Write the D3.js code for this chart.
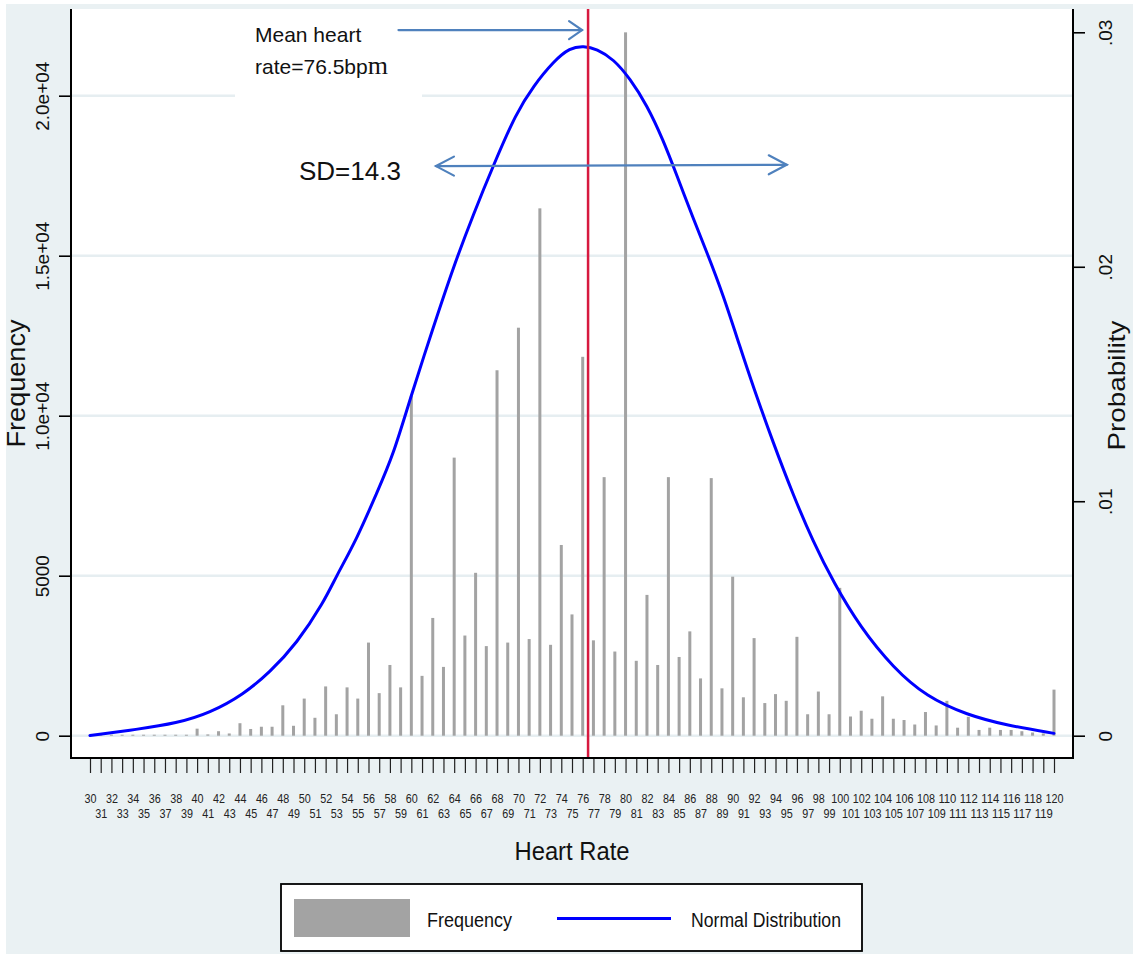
<!DOCTYPE html>
<html>
<head>
<meta charset="utf-8">
<script src="https://cdn.jsdelivr.net/npm/d3@7"></script>
<style>
  body { margin: 0; background: #ffffff; }
  svg { display: block; }
  text { font-family: "Liberation Sans", Arial, sans-serif; fill: #111; }
</style>
</head>
<body>
<svg id="chart" width="1133" height="954"></svg>
<script>
// Heart-rate categories (bpm) and observed counts
const heartRates = [30,31,32,33,34,35,36,37,38,39,40,41,42,43,44,45,46,47,48,49,
  50,51,52,53,54,55,56,57,58,59,60,61,62,63,64,65,66,67,68,69,
  70,71,72,73,74,75,76,77,78,79,80,81,82,83,84,85,86,87,88,89,
  90,91,92,93,94,95,96,97,98,99,100,101,102,103,104,105,106,107,108,109,
  110,111,112,113,114,115,116,117,118,119,120];
const frequency = [20,20,30,30,30,30,30,30,30,30,220,40,140,70,390,210,280,280,950,310,
  1160,560,1540,670,1510,1160,2910,1330,2210,1510,10620,1870,3680,2150,8690,3130,5090,2800,11420,2910,
  12750,3020,16480,2840,5960,3790,11840,2980,8080,2630,21980,2340,4400,2210,8080,2460,3260,1790,8050,1480,
  4970,1200,3050,1020,1300,1090,3090,670,1380,670,4620,600,780,530,1230,530,490,350,740,320,
  1090,250,590,180,250,180,180,140,100,70,1440];

// Normal distribution curve (probability density) traced at these heart rates
const curveRate = [30.0,34.4,38.1,41.2,44.3,46.8,49.3,51.8,53.0,54.9,56.8,58.3,59.9,62.0,63.9,65.8,
  67.7,69.8,71.4,73.3,74.8,76.1,77.3,78.9,80.4,82.0,83.5,84.8,86.3,87.6,89.1,90.7,91.9,93.8,95.7,
  97.5,99.4,101.9,105.0,108.1,111.9,115.6,120.0];
const curveDensity = [0.00001,0.00027,0.00053,0.00097,0.00175,0.00271,0.00393,0.00567,0.00681,0.00838,
  0.01038,0.01195,0.01439,0.01735,0.01996,0.02225,0.02437,0.02657,0.02771,0.02877,0.02934,0.02942,
  0.02929,0.02885,0.02803,0.02689,0.02542,0.02388,0.02208,0.02061,0.01882,0.01656,0.01491,0.01247,
  0.01021,0.00829,0.00655,0.00463,0.00289,0.00166,0.00088,0.00044,0.0001];

const meanRate = 76.5;
const sdRate = 14.3;

const freqTicks = [0, 5000, 10000, 15000, 20000];
const freqTickLabels = ["0", "5000", "1.0e+04", "1.5e+04", "2.0e+04"];
const probTicks = [0, 0.01, 0.02, 0.03];
const probTickLabels = ["0", ".01", ".02", ".03"];

// ---- layout ----
const W = 1133, H = 954;
const plotL = 71, plotR = 1073, plotT = 9, plotB = 758;
const BG = "#eaf1f3";
const GRID = "#e6eef1";

const x = d3.scaleLinear().domain([30, 120]).range([90, 1054]);
const yL = d3.scaleLinear().domain([0, 20000]).range([735.7, 95.7]);
const yR = d3.scaleLinear().domain([0, 0.03]).range([735.7, 32.3]);

const svg = d3.select("#chart");

// outer background
svg.append("rect").attr("x", 0).attr("y", 0).attr("width", W).attr("height", H).attr("fill", "#fff");
svg.append("rect").attr("x", 6).attr("y", 4).attr("width", W - 6).attr("height", H - 4).attr("fill", BG);
// plot region
svg.append("rect").attr("x", plotL).attr("y", plotT)
  .attr("width", plotR - plotL).attr("height", plotB - plotT).attr("fill", "#fff");

// horizontal grid on frequency ticks
svg.append("g").selectAll("line").data(freqTicks).join("line")
  .attr("x1", plotL).attr("x2", plotR)
  .attr("y1", d => yL(d)).attr("y2", d => yL(d))
  .attr("stroke", GRID).attr("stroke-width", 2.5);

// frequency spikes
svg.append("g").selectAll("rect").data(heartRates.map((r, i) => ({ r, f: frequency[i] }))).join("rect")
  .attr("x", d => x(d.r) - 1.5)
  .attr("width", 3)
  .attr("y", d => yL(d.f))
  .attr("height", d => yL(0) - yL(d.f))
  .attr("fill", "#a3a3a3");

// normal distribution line (B-spline through the traced points)
const curvePts = curveRate.map((r, i) => [r, curveDensity[i]]);
svg.append("path").datum(curvePts)
  .attr("d", d3.line().x(d => x(d[0])).y(d => yR(d[1])).curve(d3.curveBasis))
  .attr("fill", "none").attr("stroke", "#0000ff").attr("stroke-width", 3)
  .attr("stroke-linejoin", "round").attr("stroke-linecap", "round");

// mean marker
svg.append("line")
  .attr("x1", x(meanRate)).attr("x2", x(meanRate))
  .attr("y1", plotT).attr("y2", plotB)
  .attr("stroke", "#d7193f").attr("stroke-width", 2.5);

// ---- axes ----
const axisStroke = g => {
  g.select(".domain").remove();
  g.selectAll(".tick line").attr("stroke", "#000").attr("stroke-width", 1.6);
};

// left: frequency
const gL = svg.append("g").attr("transform", `translate(${plotL},0)`)
  .call(d3.axisLeft(yL).tickValues(freqTicks).tickFormat((d, i) => freqTickLabels[i]).tickSize(12).tickSizeOuter(0))
  .call(axisStroke);
gL.selectAll(".tick text")
  .attr("transform", "rotate(-90)").attr("x", 0).attr("y", -22).attr("dy", 0)
  .attr("text-anchor", "middle").style("font-size", "19px").style("fill", "#111");

// right: probability
const gR = svg.append("g").attr("transform", `translate(${plotR},0)`)
  .call(d3.axisRight(yR).tickValues(probTicks).tickFormat((d, i) => probTickLabels[i]).tickSize(12).tickSizeOuter(0))
  .call(axisStroke);
gR.selectAll(".tick text")
  .attr("transform", "rotate(-90)").attr("x", 0).attr("y", 38.5).attr("dy", 0)
  .attr("text-anchor", "middle").style("font-size", "19px").style("fill", "#111");

// bottom: heart rate, labels alternating over two rows
const gB = svg.append("g").attr("transform", `translate(0,${plotB})`)
  .call(d3.axisBottom(x).tickValues(heartRates).tickFormat(d3.format("d")).tickSize(15).tickSizeOuter(0))
  .call(axisStroke);
gB.selectAll(".tick line").attr("stroke", "#222").attr("stroke-width", 1.2);
gB.selectAll(".tick text")
  .attr("y", d => (d % 2 === 0 ? 44.5 : 60)).attr("dy", 0)
  .style("font-size", "13px").style("fill", "#222")
  .attr("textLength", d => String(d).length * 6.0)
  .attr("lengthAdjust", "spacingAndGlyphs");

// axis lines
svg.append("g").attr("stroke", "#000").attr("stroke-width", 2)
  .call(g => {
    g.append("line").attr("x1", plotL).attr("x2", plotL).attr("y1", plotT).attr("y2", plotB + 1);
    g.append("line").attr("x1", plotR).attr("x2", plotR).attr("y1", plotT).attr("y2", plotB + 1);
    g.append("line").attr("x1", plotL - 1).attr("x2", plotR + 1).attr("y1", plotB).attr("y2", plotB);
  });

// axis titles
svg.append("text").attr("x", (plotL + plotR) / 2).attr("y", 860)
  .attr("text-anchor", "middle").style("font-size", "26px")
  .attr("textLength", 115).attr("lengthAdjust", "spacingAndGlyphs")
  .text("Heart Rate");
svg.append("text").attr("transform", `translate(25,${(plotT + plotB) / 2}) rotate(-90)`)
  .attr("text-anchor", "middle").style("font-size", "25px")
  .attr("textLength", 128).attr("lengthAdjust", "spacingAndGlyphs")
  .text("Frequency");
svg.append("text").attr("transform", `translate(1125,${(plotT + plotB) / 2 + 2}) rotate(-90)`)
  .attr("text-anchor", "middle").style("font-size", "24px")
  .attr("textLength", 130).attr("lengthAdjust", "spacingAndGlyphs")
  .text("Probability");

// ---- annotations ----
const ARROW = "#4f81bd";
svg.append("rect").attr("x", 235).attr("y", 12).attr("width", 187).attr("height", 88).attr("fill", "#fff");

const note = svg.append("g");
note.append("text").attr("x", 255).attr("y", 41.5).style("font-size", "21px").text("Mean heart");
const rateLine = note.append("text").attr("x", 255).attr("y", 74).style("font-size", "21px");
rateLine.append("tspan").text(`rate=${meanRate}bp`);
rateLine.append("tspan").style("font-family", "'Liberation Serif', 'Times New Roman', serif")
  .style("font-size", "26px").text("m");
note.append("text").attr("x", 299).attr("y", 180).style("font-size", "26px").text(`SD=${sdRate}`);

// arrow pointing at the mean marker
const arrowG = svg.append("g").attr("stroke", ARROW).attr("stroke-width", 2.2).attr("fill", "none")
  .attr("stroke-linecap", "round");
const meanTipX = x(meanRate) - 6, meanTailX = x(58.8), meanY = yL(22050);
arrowG.append("line").attr("x1", meanTailX).attr("x2", meanTipX).attr("y1", meanY).attr("y2", meanY);
arrowG.append("path").attr("d", `M${meanTipX - 13},${meanY - 9}L${meanTipX},${meanY}L${meanTipX - 13},${meanY + 9}`);

// double arrow for the spread
const sdL = x(62.3), sdR = x(95.05), sdYL = yL(17800), sdYR = yL(17840);
arrowG.append("line").attr("x1", sdL).attr("x2", sdR).attr("y1", sdYL).attr("y2", sdYR);
arrowG.append("path").attr("d", `M${sdL + 18},${sdYL - 9.5}L${sdL},${sdYL}L${sdL + 18},${sdYL + 9.5}`);
arrowG.append("path").attr("d", `M${sdR - 18},${sdYR - 9.5}L${sdR},${sdYR}L${sdR - 18},${sdYR + 9.5}`);

// ---- legend ----
const lg = svg.append("g");
lg.append("rect").attr("x", 281).attr("y", 884).attr("width", 581).attr("height", 67)
  .attr("fill", "#fff").attr("stroke", "#000").attr("stroke-width", 1.8);
lg.append("rect").attr("x", 294).attr("y", 899).attr("width", 116).attr("height", 38).attr("fill", "#a3a3a3");
lg.append("text").attr("x", 427).attr("y", 927).style("font-size", "20px")
  .attr("textLength", 85).attr("lengthAdjust", "spacingAndGlyphs").text("Frequency");
lg.append("line").attr("x1", 557).attr("x2", 671).attr("y1", 918.5).attr("y2", 918.5)
  .attr("stroke", "#0000ff").attr("stroke-width", 3.2);
lg.append("text").attr("x", 691).attr("y", 927).style("font-size", "20px")
  .attr("textLength", 150).attr("lengthAdjust", "spacingAndGlyphs").text("Normal Distribution");
</script>
</body>
</html>
